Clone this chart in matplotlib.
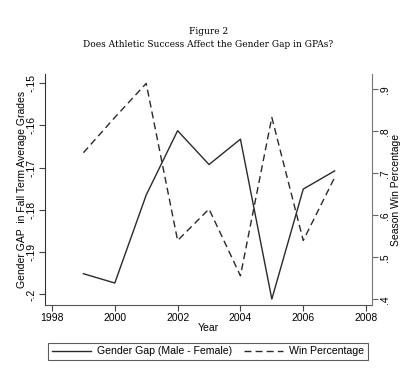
import matplotlib
matplotlib.use("Agg")
import matplotlib.pyplot as plt

years = [1999, 2000, 2001, 2002, 2003, 2004, 2005, 2006, 2007]
gender_gap = [-0.1951, -0.1973, -0.1765, -0.1613, -0.1693, -0.1633, -0.2011, -0.1751, -0.1708]
win_pct = [0.749, 0.833, 0.914, 0.540, 0.615, 0.456, 0.833, 0.540, 0.690]

x_ticks = [1998, 2000, 2002, 2004, 2006, 2008]
left_ticks = [-0.2, -0.19, -0.18, -0.17, -0.16, -0.15]
left_labels = ["-.2", "-.19", "-.18", "-.17", "-.16", "-.15"]
right_ticks = [0.4, 0.5, 0.6, 0.7, 0.8, 0.9]
right_labels = [".4", ".5", ".6", ".7", ".8", ".9"]

sans = ["Liberation Sans", "DejaVu Sans"]
plt.rcParams['font.family'] = sans

fig = plt.figure(figsize=(4.13, 3.86), dpi=100)
ax = fig.add_axes([0.1097, 0.2098, 0.7903, 0.5985])
ax2 = ax.twinx()

l1, = ax.plot(years, gender_gap, color="#2a2a2a", lw=1.0, ls="-")
l2, = ax2.plot(years, win_pct, color="#2a2a2a", lw=1.0, ls=(0, (5, 3)))

ax.set_xlim(1997.787, 2008.18)
ax.set_ylim(-0.2025, -0.1479)
ax2.set_ylim(0.3864, 0.9364)

ax.set_xticks(x_ticks)
ax.set_xticklabels([str(t) for t in x_ticks], fontsize=7.5)
ax.set_yticks(left_ticks)
ax.set_yticklabels(left_labels, fontsize=7.5, rotation=90, va="center")
ax2.set_yticks(right_ticks)
ax2.set_yticklabels(right_labels, fontsize=7.5, rotation=90, va="center")

for a in (ax, ax2):
    a.spines['top'].set_visible(False)
ax.spines['right'].set_visible(False)
ax2.spines['left'].set_visible(False)
ax2.spines['bottom'].set_visible(False)
ax.spines['left'].set_color("#333333")
ax.spines['bottom'].set_color("#555555")
ax2.spines['right'].set_color("#777777")
for s in ('left', 'bottom'):
    ax.spines[s].set_linewidth(0.8)
ax2.spines['right'].set_linewidth(0.8)

ax.tick_params(axis='both', direction='out', length=4, width=0.8, color="#444444", pad=2)
ax2.tick_params(axis='y', direction='out', length=4, width=0.8, color="#666666", pad=2)

ax.set_xlabel("Year", fontsize=7.5, labelpad=0)
ax.set_ylabel("Gender GAP  in Fall Term Average Grades", fontsize=7.5, labelpad=0)
ax2.set_ylabel("Season Win Percentage", fontsize=7.5, labelpad=1)

fig.text(0.504, 0.918, "Figure 2", ha="center", va="center", fontsize=6.5, family="DejaVu Serif")
fig.text(0.504, 0.886, "Does Athletic Success Affect the Gender Gap in GPAs?", ha="center",
         va="center", fontsize=6.5, family="DejaVu Serif")

leg = fig.legend([l1, l2], ["Gender Gap (Male - Female)", "Win Percentage"],
                 loc="center", bbox_to_anchor=(0.504, 0.0894), ncol=2, fontsize=7.6,
                 frameon=True, fancybox=False, handlelength=3.7, columnspacing=1.1,
                 borderpad=0.35, handletextpad=0.6)
leg.get_frame().set_edgecolor("#333333")
leg.get_frame().set_linewidth(0.8)

fig.savefig("out.png", dpi=100)
